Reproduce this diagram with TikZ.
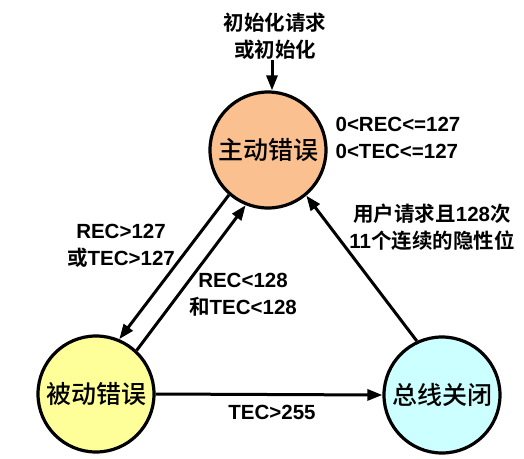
\documentclass[tikz,border=0pt]{standalone}
\usepackage{fontspec}
\setmainfont{Liberation Sans}
\newfontfamily\zh{Noto Sans CJK SC}[BoldFont={Noto Sans CJK SC Bold}]
\newfontfamily\zhmed{Noto Sans CJK SC Medium}
\usetikzlibrary{arrows.meta}
\definecolor{actfill}{HTML}{FAC090}
\definecolor{pasfill}{HTML}{FFFF99}
\definecolor{offfill}{HTML}{CCFFFF}
\begin{document}
\begin{tikzpicture}[x=1pt,y=-1pt,
  state/.style={circle,draw=black,line width=3.2pt,minimum size=116pt,inner sep=0pt,font=\zhmed\fontsize{25}{28}\selectfont},
  lbl/.style={align=center,inner sep=0pt,font=\bfseries\fontsize{20.5}{27}\selectfont},
  conn/.style={line width=3pt,-{Triangle[length=15pt,width=11pt]}}
]
\useasboundingbox (0,0) rectangle (524,458);
\node[state,fill=actfill] (act) at (268,150) {主动错误};
\node[state,fill=pasfill] (pas) at (96,394) {被动错误};
\node[state,fill=offfill] (off) at (442,395) {总线关闭};

\node[lbl] (init) at (275,36) {{\zh\bfseries 初始化请求}\\{\zh\bfseries 或初始化}};
\coordinate (inittop) at (272,60);
\draw[conn] (inittop) -- (act.north -| inittop);

\node[lbl,align=left] (cond) at (398,137.5) {0<REC<=127\\0<TEC<=127};
\node[lbl] (bus) at (432,227) {{\zh\bfseries 用户请求且}128{\zh\bfseries 次}\\11{\zh\bfseries 个连续的隐性位}};
\node[lbl] (gt) at (121,246) {REC>127\\{\zh\bfseries 或}TEC>127};
\node[lbl] (lt) at (243,295) {REC<128\\{\zh\bfseries 和}TEC<128};
\node[lbl] (tec) at (272,412) {TEC>255};

\draw[conn] (act.229.6) -- (pas.67.2);
\draw[conn] (pas.47) -- (act.248.4);
\draw[conn] (off.115.7) -- (act.310);
\draw[conn] (pas.east) -- (off.west);
\end{tikzpicture}
\end{document}
